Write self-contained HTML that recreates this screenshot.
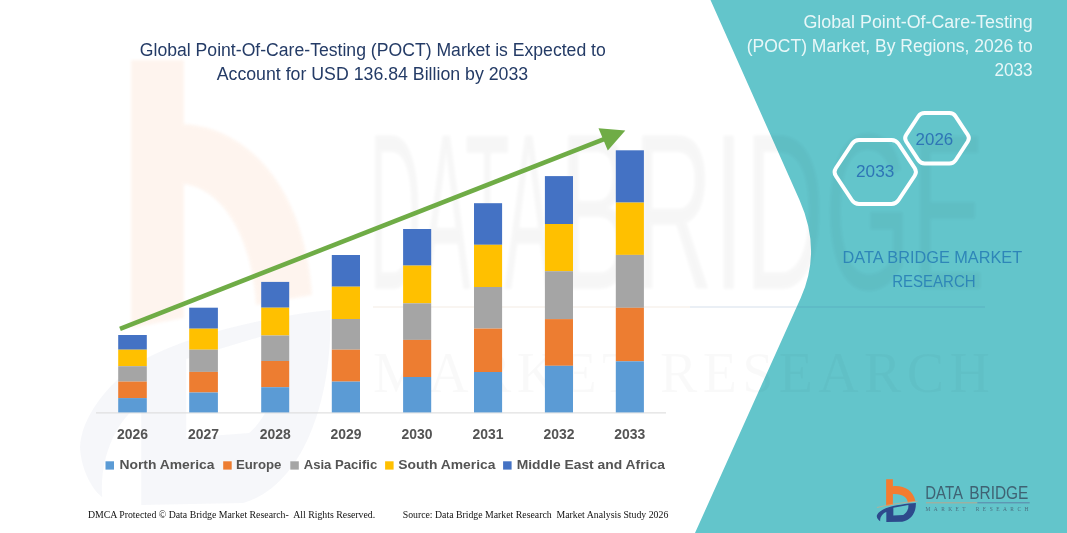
<!DOCTYPE html>
<html lang="en">
<head>
<meta charset="utf-8">
<title>Global Point-Of-Care-Testing (POCT) Market</title>
<style>
html,body{margin:0;padding:0;background:#fff;}
body{width:1067px;height:533px;overflow:hidden;}
svg{display:block;}
text{font-family:"Liberation Sans",sans-serif;}
.ttl{font-size:17.6px;fill:#243B66;}
.rt{font-size:17.6px;fill:#E8F7F8;}
.yr{font-size:14.1px;font-weight:bold;fill:#545454;}
.lg{font-size:13.6px;font-weight:bold;fill:#545454;}
.ft{font-family:"Liberation Serif",serif;font-size:10px;fill:#111;}
.hx{font-size:16.8px;fill:#2E75B6;}
.lgt{font-size:18.6px;fill:#3F6273;}
.lgs{font-family:"Liberation Serif",serif;font-size:5.4px;fill:#4A6E80;}
.wmt{font-size:222px;fill:#000;}
.wms{font-family:"Liberation Serif",serif;font-size:56px;fill:#000;}
.dbm{font-size:16.9px;fill:#2E86B8;}
</style>
</head>
<body>
<svg width="1067" height="533" viewBox="0 0 1067 533">
<defs><filter id="bl" x="-5%" y="-5%" width="110%" height="110%"><feGaussianBlur stdDeviation="1.6"/></filter></defs>
<rect width="1067" height="533" fill="#ffffff"/>
<path d="M131,60 L184,60 L184,124 C250,128 305,190 312,295 L256,305 C252,240 225,190 184,184 L184,318 L131,328 Z" fill="#F47C30" opacity="0.075" filter="url(#bl)"/>
<g opacity="0.045" transform="translate(75.2,34.5) scale(0.6,0.96)">
<path d="M425,287 C330,293 200,310 110,340 C50,365 10,400 8,430 C10,455 30,475 45,482 C40,440 70,400 110,385 L110,490 L280,488 C380,470 430,380 425,287 Z M185,338 L345,308 C350,360 320,400 290,415 L185,420 Z" fill="#2D4A8C" fill-rule="evenodd"/>
</g>
<!-- TEAL -->
<path d="M710.5,0 L799.5,200 Q822,250.7 800.7,298 L695,533 L1067,533 L1067,0 Z" fill="#63C5CB"/>
<g filter="url(#bl)" opacity="0.033">
<text x="369" y="289" class="wmt" textLength="184" lengthAdjust="spacingAndGlyphs">DATA</text>
<text x="559" y="289" class="wmt" textLength="426" lengthAdjust="spacingAndGlyphs">BRIDGE</text>
</g>
<text x="373" y="392" class="wms" textLength="617" lengthAdjust="spacing" opacity="0.018">MARKET RESEARCH</text>
<line x1="373" y1="307" x2="690" y2="307" stroke="#C9A27E" stroke-width="2" opacity="0.10"/>
<line x1="690" y1="307" x2="985" y2="307" stroke="#3B6EA5" stroke-width="2" opacity="0.10"/>
<!-- axis -->
<line x1="96" y1="412.9" x2="666" y2="412.9" stroke="#D9D9D9" stroke-width="1"/>
<rect x="118.2" y="335.0" width="28.6" height="14.7" fill="#4472C4"/>
<rect x="118.2" y="349.7" width="28.6" height="16.5" fill="#FFC000"/>
<rect x="118.2" y="366.2" width="28.6" height="15.4" fill="#A5A5A5"/>
<rect x="118.2" y="381.6" width="28.6" height="16.5" fill="#ED7D31"/>
<rect x="118.2" y="398.1" width="28.6" height="14.3" fill="#5B9BD5"/>
<text x="132.5" y="439.3" text-anchor="middle" class="yr" textLength="31" lengthAdjust="spacingAndGlyphs">2026</text>
<rect x="189.2" y="307.7" width="28.7" height="21.0" fill="#4472C4"/>
<rect x="189.2" y="328.7" width="28.7" height="21.0" fill="#FFC000"/>
<rect x="189.2" y="349.7" width="28.7" height="22.2" fill="#A5A5A5"/>
<rect x="189.2" y="371.9" width="28.7" height="20.6" fill="#ED7D31"/>
<rect x="189.2" y="392.5" width="28.7" height="19.9" fill="#5B9BD5"/>
<text x="203.6" y="439.3" text-anchor="middle" class="yr" textLength="31" lengthAdjust="spacingAndGlyphs">2027</text>
<rect x="261.2" y="281.9" width="28.0" height="25.8" fill="#4472C4"/>
<rect x="261.2" y="307.7" width="28.0" height="27.8" fill="#FFC000"/>
<rect x="261.2" y="335.5" width="28.0" height="25.5" fill="#A5A5A5"/>
<rect x="261.2" y="361.0" width="28.0" height="26.2" fill="#ED7D31"/>
<rect x="261.2" y="387.2" width="28.0" height="25.2" fill="#5B9BD5"/>
<text x="275.2" y="439.3" text-anchor="middle" class="yr" textLength="31" lengthAdjust="spacingAndGlyphs">2028</text>
<rect x="331.8" y="255.0" width="28.2" height="31.7" fill="#4472C4"/>
<rect x="331.8" y="286.7" width="28.2" height="32.3" fill="#FFC000"/>
<rect x="331.8" y="319.0" width="28.2" height="30.7" fill="#A5A5A5"/>
<rect x="331.8" y="349.7" width="28.2" height="31.9" fill="#ED7D31"/>
<rect x="331.8" y="381.6" width="28.2" height="30.8" fill="#5B9BD5"/>
<text x="345.9" y="439.3" text-anchor="middle" class="yr" textLength="31" lengthAdjust="spacingAndGlyphs">2029</text>
<rect x="403.1" y="229.0" width="28.1" height="36.6" fill="#4472C4"/>
<rect x="403.1" y="265.6" width="28.1" height="37.7" fill="#FFC000"/>
<rect x="403.1" y="303.3" width="28.1" height="36.6" fill="#A5A5A5"/>
<rect x="403.1" y="339.9" width="28.1" height="37.1" fill="#ED7D31"/>
<rect x="403.1" y="377.0" width="28.1" height="35.4" fill="#5B9BD5"/>
<text x="417.1" y="439.3" text-anchor="middle" class="yr" textLength="31" lengthAdjust="spacingAndGlyphs">2030</text>
<rect x="474.0" y="203.2" width="28.1" height="41.6" fill="#4472C4"/>
<rect x="474.0" y="244.8" width="28.1" height="42.2" fill="#FFC000"/>
<rect x="474.0" y="287.0" width="28.1" height="41.6" fill="#A5A5A5"/>
<rect x="474.0" y="328.6" width="28.1" height="43.4" fill="#ED7D31"/>
<rect x="474.0" y="372.0" width="28.1" height="40.4" fill="#5B9BD5"/>
<text x="488.1" y="439.3" text-anchor="middle" class="yr" textLength="31" lengthAdjust="spacingAndGlyphs">2031</text>
<rect x="544.9" y="176.1" width="28.1" height="47.9" fill="#4472C4"/>
<rect x="544.9" y="224.0" width="28.1" height="47.2" fill="#FFC000"/>
<rect x="544.9" y="271.2" width="28.1" height="47.9" fill="#A5A5A5"/>
<rect x="544.9" y="319.1" width="28.1" height="46.7" fill="#ED7D31"/>
<rect x="544.9" y="365.8" width="28.1" height="46.6" fill="#5B9BD5"/>
<text x="559.0" y="439.3" text-anchor="middle" class="yr" textLength="31" lengthAdjust="spacingAndGlyphs">2032</text>
<rect x="615.8" y="150.3" width="28.1" height="52.3" fill="#4472C4"/>
<rect x="615.8" y="202.6" width="28.1" height="52.3" fill="#FFC000"/>
<rect x="615.8" y="254.9" width="28.1" height="52.9" fill="#A5A5A5"/>
<rect x="615.8" y="307.8" width="28.1" height="53.5" fill="#ED7D31"/>
<rect x="615.8" y="361.3" width="28.1" height="51.1" fill="#5B9BD5"/>
<text x="629.8" y="439.3" text-anchor="middle" class="yr" textLength="31" lengthAdjust="spacingAndGlyphs">2033</text>
<!-- arrow -->
<line x1="120" y1="328.8" x2="606" y2="138.4" stroke="#6FAC46" stroke-width="4.6"/>
<polygon points="625.3,130.6 598.5,128.2 607.8,150.5" fill="#6FAC46"/>
<!-- titles -->
<text x="139.8" y="55.9" class="ttl" textLength="466" lengthAdjust="spacingAndGlyphs">Global Point-Of-Care-Testing (POCT) Market is Expected to</text>
<text x="216.7" y="80.3" class="ttl" textLength="311.5" lengthAdjust="spacingAndGlyphs">Account for USD 136.84 Billion by 2033</text>
<text x="803.4" y="27.6" class="rt" textLength="229.3" lengthAdjust="spacingAndGlyphs">Global Point-Of-Care-Testing</text>
<text x="746.7" y="52.1" class="rt" textLength="286" lengthAdjust="spacingAndGlyphs">(POCT) Market, By Regions, 2026 to</text>
<text x="994.4" y="75.7" class="rt" textLength="38.2" lengthAdjust="spacingAndGlyphs">2033</text>
<!-- hexagons -->
<path d="M835.8,175.8 Q833.3,172.0 835.8,168.2 L852.0,143.8 Q854.5,140.0 859.0,140.0 L891.5,140.0 Q896.0,140.0 898.5,143.8 L914.7,168.2 Q917.2,172.0 914.7,175.8 L898.5,200.2 Q896.0,204.0 891.5,204.0 L859.0,204.0 Q854.5,204.0 852.0,200.2 Z" fill="none" stroke="#ffffff" stroke-width="3.9" stroke-linejoin="round"/>
<path d="M906.2,141.5 Q904.0,138.2 906.2,134.9 L918.4,116.3 Q920.6,113.0 924.6,113.0 L949.4,113.0 Q953.4,113.0 955.6,116.3 L967.8,134.9 Q970.0,138.2 967.8,141.5 L955.6,160.2 Q953.4,163.5 949.4,163.5 L924.6,163.5 Q920.6,163.5 918.4,160.2 Z" fill="none" stroke="#ffffff" stroke-width="3.9" stroke-linejoin="round"/>
<text x="856" y="177.2" class="hx" textLength="38.3" lengthAdjust="spacingAndGlyphs">2033</text>
<text x="915.6" y="145" class="hx" textLength="37.6" lengthAdjust="spacingAndGlyphs">2026</text>
<text x="842.6" y="262.6" class="dbm" textLength="179.6" lengthAdjust="spacingAndGlyphs">DATA BRIDGE MARKET</text>
<text x="892.2" y="286.7" class="dbm" textLength="83.4" lengthAdjust="spacingAndGlyphs">RESEARCH</text>
<!-- legend -->
<rect x="105.5" y="461.3" width="8.5" height="8.3" fill="#5B9BD5"/>
<text x="119.5" y="469" class="lg" textLength="95" lengthAdjust="spacingAndGlyphs">North America</text>
<rect x="223.2" y="461.3" width="8.5" height="8.3" fill="#ED7D31"/>
<text x="235.9" y="469" class="lg" textLength="45.5" lengthAdjust="spacingAndGlyphs">Europe</text>
<rect x="290.3" y="461.3" width="8.5" height="8.3" fill="#A5A5A5"/>
<text x="303.7" y="469" class="lg" textLength="73.6" lengthAdjust="spacingAndGlyphs">Asia Pacific</text>
<rect x="385.1" y="461.3" width="8.5" height="8.3" fill="#FFC000"/>
<text x="398.2" y="469" class="lg" textLength="97.3" lengthAdjust="spacingAndGlyphs">South America</text>
<rect x="503.1" y="461.3" width="8.5" height="8.3" fill="#4472C4"/>
<text x="516.7" y="469" class="lg" textLength="148.2" lengthAdjust="spacingAndGlyphs">Middle East and Africa</text>
<!-- footer -->
<text x="87.9" y="517.7" class="ft" textLength="287.3" lengthAdjust="spacingAndGlyphs" xml:space="preserve">DMCA Protected © Data Bridge Market Research-  All Rights Reserved.</text>
<text x="402.7" y="517.7" class="ft" textLength="265.6" lengthAdjust="spacingAndGlyphs" xml:space="preserve">Source: Data Bridge Market Research  Market Analysis Study 2026</text>
<g transform="translate(876,476) scale(0.0938)">
<path d="M108,35 L180,35 L180,108 C290,95 400,150 420,270 L340,283 C335,230 280,185 180,192 L180,306 L108,318 Z" fill="#F47C30"/>
<path d="M425,287 C330,293 200,310 110,340 C50,365 10,400 8,430 C10,455 30,475 45,482 C40,440 70,400 110,385 L110,490 L280,488 C380,470 430,380 425,287 Z M185,338 L345,308 C350,360 320,400 290,415 L185,420 Z" fill="#2D4A8C" fill-rule="evenodd"/>
<path d="M10,336 C150,300 300,282 445,268" fill="none" stroke="#D9A77E" stroke-width="7"/>
</g>
<text x="925.2" y="499.4" class="lgt" textLength="37.8" lengthAdjust="spacingAndGlyphs">DATA</text>
<text x="969.2" y="499.4" class="lgt" textLength="59.2" lengthAdjust="spacingAndGlyphs">BRIDGE</text>
<line x1="926" y1="502.8" x2="977.4" y2="502.8" stroke="#B8A78F" stroke-width="1"/>
<line x1="977.4" y1="502.8" x2="1029.7" y2="502.8" stroke="#5C84A8" stroke-width="1"/>
<text x="925.6" y="511.3" class="lgs" textLength="40" lengthAdjust="spacing">MARKET</text>
<text x="975.7" y="511.3" class="lgs" textLength="52.8" lengthAdjust="spacing">RESEARCH</text>
</svg>
</body>
</html>
